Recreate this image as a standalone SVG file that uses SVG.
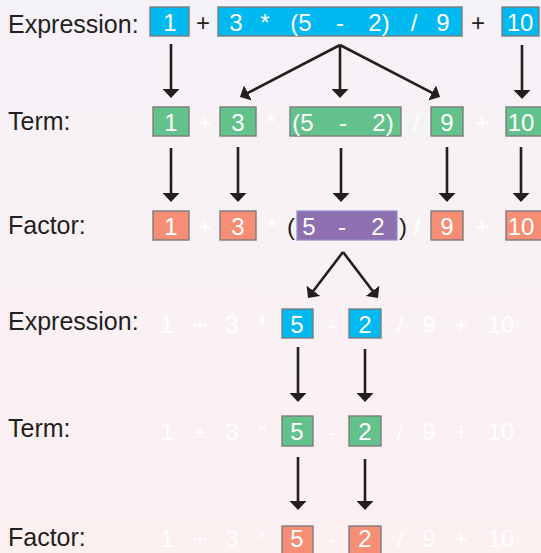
<svg xmlns="http://www.w3.org/2000/svg" width="541" height="553" viewBox="0 0 541 553">
  <defs>
    <linearGradient id="bg" x1="0" y1="0" x2="0" y2="1">
      <stop offset="0" stop-color="#f5f2f7"/>
      <stop offset="1" stop-color="#fcf0f1"/>
    </linearGradient>
    <marker id="head" markerUnits="userSpaceOnUse" markerWidth="9" markerHeight="17" viewBox="0 0 9 17" refX="4" refY="8.5" orient="auto">
      <path d="M0,0 L9,8.5 L0,17 z" fill="#231f20"/>
    </marker>
  </defs>
  <style>
    text { font-family: "Liberation Sans", Arial, sans-serif; }
    .label { font-size: 25px; fill: #231f20; }
    .tok { font-size: 24px; fill: #ffffff; text-anchor: middle; }
    .op { font-size: 24px; fill: #231f20; text-anchor: middle; }
    .ghost { font-size: 24px; fill: #ffffff; text-anchor: middle; }
    .box { stroke: #7d7d7d; stroke-width: 1.4; }
    .expr { fill: #00b9f1; }
    .term { fill: #63c18b; }
    .fact { fill: #f58e74; }
    .paren { fill: #8e70b0; stroke: #8c8fd0; stroke-width: 1.2; }
    .arrow { stroke: #231f20; stroke-width: 2.6; fill: none; marker-end: url(#head); }
  </style>

  <rect x="0" y="0" width="541" height="553" fill="url(#bg)"/>

  <!-- row labels -->
  <g id="labels">
    <text class="label" x="8" y="33">Expression:</text>
    <text class="label" x="8" y="130">Term:</text>
    <text class="label" x="8" y="234">Factor:</text>
    <text class="label" x="8" y="330">Expression:</text>
    <text class="label" x="8" y="437">Term:</text>
    <text class="label" x="8" y="546">Factor:</text>
  </g>

  <!-- level 1: expression tokens -->
  <g id="expr-1">
    <rect class="box expr" x="150" y="7" width="39" height="29"/>
    <text class="tok" x="170" y="31">1</text>
  </g>
  <text class="op" x="203" y="31">+</text>
  <g id="expr-term-mid">
    <rect class="box expr" x="218" y="7" width="244" height="29"/>
    <text class="tok" x="236" y="31">3</text>
    <text class="tok" x="265" y="31">*</text>
    <text class="tok" x="301" y="31">(5</text>
    <text class="tok" x="340" y="31">-</text>
    <text class="tok" x="379" y="31">2)</text>
    <text class="tok" x="414" y="31">/</text>
    <text class="tok" x="443" y="31">9</text>
  </g>
  <text class="op" x="478" y="31">+</text>
  <g id="expr-10">
    <rect class="box expr" x="502" y="7" width="37" height="29"/>
    <text class="tok" x="520" y="31">10</text>
  </g>

  <!-- level 2: terms -->
  <g id="term-1">
    <rect class="box term" x="153" y="107" width="36" height="29"/>
    <text class="tok" x="171" y="131">1</text>
  </g>
  <text class="ghost" x="205" y="131">+</text>
  <g id="term-3">
    <rect class="box term" x="220" y="107" width="36" height="29"/>
    <text class="tok" x="238" y="131">3</text>
  </g>
  <text class="ghost" x="271" y="131">*</text>
  <g id="term-paren">
    <rect class="box term" x="290" y="107" width="111" height="29"/>
    <text class="tok" x="303" y="131">(5</text>
    <text class="tok" x="343" y="131">-</text>
    <text class="tok" x="383" y="131">2)</text>
  </g>
  <text class="ghost" x="416" y="131">/</text>
  <g id="term-9">
    <rect class="box term" x="431" y="107" width="32" height="29"/>
    <text class="tok" x="447" y="131">9</text>
  </g>
  <text class="ghost" x="482" y="131">+</text>
  <g id="term-10">
    <rect class="box term" x="506" y="107" width="36" height="29"/>
    <text class="tok" x="521" y="131">10</text>
  </g>

  <!-- level 3: factors -->
  <g id="factor-1">
    <rect class="box fact" x="153" y="211" width="36" height="29"/>
    <text class="tok" x="171" y="235">1</text>
  </g>
  <text class="ghost" x="205" y="235">+</text>
  <g id="factor-3">
    <rect class="box fact" x="220" y="211" width="36" height="29"/>
    <text class="tok" x="238" y="235">3</text>
  </g>
  <text class="ghost" x="272" y="235">*</text>
  <g id="factor-paren">
    <text class="op" x="291" y="235">(</text>
    <rect class="paren" x="297" y="211" width="100" height="29"/>
    <text class="tok" x="309" y="235">5</text>
    <text class="tok" x="342" y="235">-</text>
    <text class="tok" x="378" y="235">2</text>
    <text class="op" x="403" y="235">)</text>
  </g>
  <text class="ghost" x="417" y="235">/</text>
  <g id="factor-9">
    <rect class="box fact" x="431" y="211" width="32" height="29"/>
    <text class="tok" x="447" y="235">9</text>
  </g>
  <text class="ghost" x="482" y="235">+</text>
  <g id="factor-10">
    <rect class="box fact" x="506" y="211" width="36" height="29"/>
    <text class="tok" x="521" y="235">10</text>
  </g>

  <!-- inner expression 5 - 2 -->
  <g id="inner-expr-ghost">
    <text class="ghost" x="167" y="333">1</text>
    <text class="ghost" x="200" y="333">+</text>
    <text class="ghost" x="232" y="333">3</text>
    <text class="ghost" x="262" y="333">*</text>
    <text class="ghost" x="332" y="333">-</text>
    <text class="ghost" x="400" y="333">/</text>
    <text class="ghost" x="429" y="333">9</text>
    <text class="ghost" x="461" y="333">+</text>
    <text class="ghost" x="501" y="333">10</text>
  </g>
  <g id="inner-expr-5">
    <rect class="box expr" x="282" y="309" width="31" height="29"/>
    <text class="tok" x="297" y="333">5</text>
  </g>
  <g id="inner-expr-2">
    <rect class="box expr" x="349" y="309" width="32" height="29"/>
    <text class="tok" x="365" y="333">2</text>
  </g>

  <!-- inner terms -->
  <g id="inner-term-ghost">
    <text class="ghost" x="167" y="440">1</text>
    <text class="ghost" x="200" y="440">+</text>
    <text class="ghost" x="232" y="440">3</text>
    <text class="ghost" x="262" y="440">*</text>
    <text class="ghost" x="332" y="440">-</text>
    <text class="ghost" x="400" y="440">/</text>
    <text class="ghost" x="429" y="440">9</text>
    <text class="ghost" x="461" y="440">+</text>
    <text class="ghost" x="501" y="440">10</text>
  </g>
  <g id="inner-term-5">
    <rect class="box term" x="282" y="416" width="31" height="30"/>
    <text class="tok" x="297" y="440">5</text>
  </g>
  <g id="inner-term-2">
    <rect class="box term" x="349" y="416" width="32" height="30"/>
    <text class="tok" x="365" y="440">2</text>
  </g>

  <!-- inner factors -->
  <g id="inner-factor-ghost">
    <text class="ghost" x="167" y="547">1</text>
    <text class="ghost" x="200" y="547">+</text>
    <text class="ghost" x="232" y="547">3</text>
    <text class="ghost" x="262" y="547">*</text>
    <text class="ghost" x="332" y="547">-</text>
    <text class="ghost" x="400" y="547">/</text>
    <text class="ghost" x="429" y="547">9</text>
    <text class="ghost" x="461" y="547">+</text>
    <text class="ghost" x="501" y="547">10</text>
  </g>
  <g id="inner-factor-5">
    <rect class="box fact" x="282" y="526" width="31" height="30"/>
    <text class="tok" x="297" y="547">5</text>
  </g>
  <g id="inner-factor-2">
    <rect class="box fact" x="349" y="526" width="32" height="30"/>
    <text class="tok" x="365" y="547">2</text>
  </g>

  <!-- derivation arrows -->
  <g id="connectors">
    <line class="arrow" x1="171" y1="44" x2="171" y2="93"/>
    <line class="arrow" x1="340" y1="45" x2="244.4" y2="94.7"/>
    <line class="arrow" x1="340" y1="45" x2="340" y2="93"/>
    <line class="arrow" x1="340" y1="45" x2="435.6" y2="94.7"/>
    <line class="arrow" x1="522" y1="45" x2="522" y2="94"/>

    <line class="arrow" x1="171" y1="148" x2="171" y2="197"/>
    <line class="arrow" x1="238" y1="147" x2="238" y2="197"/>
    <line class="arrow" x1="341" y1="148" x2="341" y2="197"/>
    <line class="arrow" x1="447" y1="147" x2="447" y2="197"/>
    <line class="arrow" x1="521" y1="147" x2="521" y2="197"/>

    <line class="arrow" x1="343" y1="252" x2="311" y2="294"/>
    <line class="arrow" x1="343" y1="252" x2="375" y2="294"/>

    <line class="arrow" x1="298" y1="347" x2="298" y2="397"/>
    <line class="arrow" x1="365" y1="349" x2="365" y2="397"/>

    <line class="arrow" x1="298" y1="457" x2="298" y2="505"/>
    <line class="arrow" x1="365" y1="459" x2="365" y2="505"/>
  </g>
</svg>
